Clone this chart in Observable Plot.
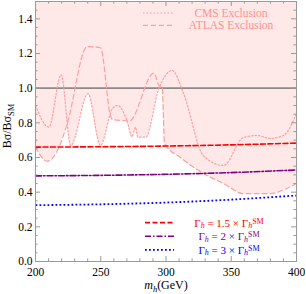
<!DOCTYPE html>
<html><head><meta charset="utf-8">
<script src="https://cdn.jsdelivr.net/npm/d3@7"></script>
<script src="https://cdn.jsdelivr.net/npm/@observablehq/plot@0.6"></script>
<style>body{margin:0;background:#fff}#chart svg{display:block}</style>
</head><body><div id="chart"></div>
<script>
// CMS exclusion (dotted)
const cmsMass  = [200, 210.2, 219.7, 227, 240.2, 249.8, 258.8, 263, 270, 274, 276.6, 278.5, 284.3, 294.5, 304.7, 313.4, 328.7, 344, 359.4, 370, 380, 390, 400];
const cmsRatio = [0.90, 0.775, 1.077, 0.67, 0.968, 0.67, 0.88, 0.90, 0.814, 0.72, 0.775, 0.717, 0.717, 0.996, 1.102, 0.97, 0.61, 0.554, 0.716, 0.727, 0.71, 0.727, 0.854];
// ATLAS exclusion (dashed)
const atlasMass  = [200, 209, 218, 224.3, 239.6, 249.8, 257.5, 259, 272, 290.7, 294.5, 297.1, 298.9, 311, 328.7, 344, 359.4, 380, 392, 400];
const atlasRatio = [0.66, 0.579, 0.66, 0.795, 1.24, 1.233, 0.84, 0.818, 0.812, 1.087, 1.016, 1.0, 0.68, 0.60, 0.508, 0.45, 0.392, 0.392, 0.42, 0.45];
// Width curves
const widthMass = [200, 250, 300, 350, 400];
const width15 = [0.660, 0.662, 0.666, 0.673, 0.683];
const width2  = [0.494, 0.497, 0.503, 0.513, 0.528];
const width3  = [0.325, 0.330, 0.340, 0.357, 0.381];
// Ticks
const xTicks = [200, 250, 300, 350, 400];
const yTicks = [0, 0.2, 0.4, 0.6, 0.8, 1.0, 1.2, 1.4];
const xMinorTicks = d3.range(200, 401, 10).filter(v => v % 50 !== 0);
const yMinorTicks = d3.range(0, 31).map(i => i * 0.05).filter((v, i) => i % 4 !== 0);
const legendTop = ["CMS Exclusion", "ATLAS Exclusion"];
const legendWidth = ["1.5", "2", "3"];

const W = 306, H = 294, mL = 35, mR = 10, mT = 1, mB = 33;
const xDom = [200, 400], yDom = [0, 1.5];
const kx = (xDom[1] - xDom[0]) / (W - mL - mR);
const ky = (yDom[1] - yDom[0]) / (H - mT - mB);
const majLen = 5, minLen = 2.6;

const cms = cmsMass.map((m, i) => ({m, v: cmsRatio[i]}));
const atlas = atlasMass.map((m, i) => ({m, v: atlasRatio[i]}));
const widths = widthMass.map((m, i) => ({m, a: width15[i], b: width2[i], c: width3[i]}));

const pink = "#ffe8e8", pinkLine = "#ff9e9e", frameCol = "#9a9a9a";
const font = "'Liberation Serif', 'Times New Roman', serif";
const blueDash = "1.8,2.2";

const plot = Plot.plot({
  width: W, height: H,
  marginLeft: mL, marginRight: mR, marginTop: mT, marginBottom: mB,
  style: {fontFamily: font, fontSize: "11.5px", background: "#fff", color: "#000"},
  x: {domain: xDom, ticks: xTicks, tickSize: 0, tickPadding: 6, label: null},
  y: {domain: yDom, ticks: yTicks, tickSize: 0, tickPadding: 3, label: null, tickFormat: d3.format(".1f")},
  marks: [
    Plot.areaY(cms, {x: "m", y1: "v", y2: () => yDom[1], fill: pink, curve: "monotone-x"}),
    Plot.areaY(atlas, {x: "m", y1: "v", y2: () => yDom[1], fill: pink, curve: "monotone-x"}),
    Plot.ruleY([1], {stroke: "#8a8a8a", strokeWidth: 1.6}),
    Plot.line(cms, {x: "m", y: "v", stroke: pinkLine, strokeWidth: 1.2, strokeDasharray: "1.5,2", curve: "monotone-x"}),
    Plot.line(atlas, {x: "m", y: "v", stroke: pinkLine, strokeWidth: 1.2, strokeDasharray: "5,3", curve: "monotone-x"}),
    Plot.line(widths, {x: "m", y: "a", stroke: "#ff0000", strokeWidth: 1.6, strokeDasharray: "5,2.5", curve: "monotone-x"}),
    Plot.line(widths, {x: "m", y: "b", stroke: "#800080", strokeWidth: 1.6, strokeDasharray: "6,2,1.5,2", curve: "monotone-x"}),
    Plot.line(widths, {x: "m", y: "c", stroke: "#0000ff", strokeWidth: 1.8, strokeDasharray: blueDash, strokeLinecap: "butt", curve: "monotone-x"}),
    Plot.frame({stroke: frameCol, strokeWidth: 1}),
    // ticks inward on all four sides
    Plot.ruleX(xTicks, {x: d => d, y1: yDom[0], y2: yDom[0] + majLen * ky, stroke: frameCol}),
    Plot.ruleX(xMinorTicks, {x: d => d, y1: yDom[0], y2: yDom[0] + minLen * ky, stroke: frameCol}),
    Plot.ruleX(xTicks, {x: d => d, y1: yDom[1], y2: yDom[1] - majLen * ky, stroke: frameCol}),
    Plot.ruleX(xMinorTicks, {x: d => d, y1: yDom[1], y2: yDom[1] - minLen * ky, stroke: frameCol}),
    Plot.ruleY(yTicks, {y: d => d, x1: xDom[0], x2: xDom[0] + majLen * kx, stroke: frameCol}),
    Plot.ruleY(yMinorTicks, {y: d => d, x1: xDom[0], x2: xDom[0] + minLen * kx, stroke: frameCol}),
    Plot.ruleY(yTicks, {y: d => d, x1: xDom[1], x2: xDom[1] - majLen * kx, stroke: frameCol}),
    Plot.ruleY(yMinorTicks, {y: d => d, x1: xDom[1], x2: xDom[1] - minLen * kx, stroke: frameCol})
  ]
});
document.getElementById("chart").appendChild(plot);

// Legends and axis labels
const svg = d3.select(plot);
const g = svg.append("g").attr("font-family", font);
// top legend
const topDash = ["1.5,2", "5,3"];
legendTop.forEach((t, i) => {
  const y = 13 + i * 12.3;
  g.append("line").attr("x1", 143).attr("x2", 174).attr("y1", y).attr("y2", y)
    .attr("stroke", pinkLine).attr("stroke-width", 1.2).attr("stroke-dasharray", topDash[i]);
  g.append("text").attr("x", 231).attr("y", y + 4).attr("text-anchor", "middle")
    .attr("font-size", 11.5).attr("fill", "#ff9090").text(t);
});
// width legend
const wCols = ["#ff0000", "#800080", "#0000ff"];
const wDash = ["5,2.5", "6,2,1.5,2", blueDash];
const wSW = [1.6, 1.6, 1.8];
legendWidth.forEach((f, i) => {
  const y = 222.6 + i * 13.6;
  g.append("line").attr("x1", 145).attr("x2", 174).attr("y1", y).attr("y2", y)
    .attr("stroke", wCols[i]).attr("stroke-width", wSW[i]).attr("stroke-dasharray", wDash[i]);
  const t = g.append("text").attr("x", 229).attr("y", y + 4).attr("text-anchor", "middle")
    .attr("font-size", 11).attr("fill", wCols[i]);
  t.append("tspan").text("Γ");
  t.append("tspan").attr("font-style", "italic").attr("font-size", 8).attr("dy", 1.5).text("h");
  t.append("tspan").attr("dy", -1.5).text(" = " + f + " × Γ");
  t.append("tspan").attr("font-style", "italic").attr("font-size", 8).attr("dy", 1.5).text("h");
  t.append("tspan").attr("font-size", 8).attr("dy", -4.5).text("SM");
});
// y label
const yl = g.append("text").attr("transform", "translate(11,126) rotate(-90)")
  .attr("text-anchor", "middle").attr("font-size", 12).attr("fill", "#000");
yl.append("tspan").text("Bσ/Bσ");
yl.append("tspan").attr("font-size", 8.5).attr("dy", 2.5).text("SM");
// x label
const xl = g.append("text").attr("x", 166).attr("y", 289).attr("text-anchor", "middle")
  .attr("font-size", 12).attr("fill", "#000");
xl.append("tspan").attr("font-style", "italic").text("m");
xl.append("tspan").attr("font-style", "italic").attr("font-size", 8.5).attr("dy", 2.5).text("h");
xl.append("tspan").attr("dy", -2.5).text("(GeV)");
</script>
</body></html>
